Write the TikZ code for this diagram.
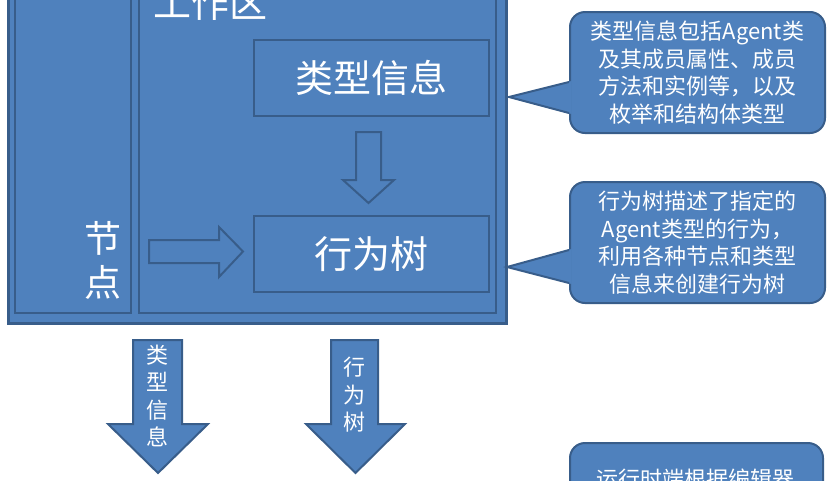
\documentclass[tikz,border=0pt]{standalone}
\usepackage{fontspec}
\setmainfont{Noto Sans CJK SC}
\definecolor{fillc}{HTML}{4F81BD}
\definecolor{linec}{HTML}{385D8A}
\begin{document}
\begin{tikzpicture}[x=1pt,y=-1pt,
  panel/.style={fill=fillc,draw=linec,inner sep=0pt,text=white},
  blockarrow/.style={fill=fillc,draw=linec,line width=2pt,line join=miter},
  callout/.style={fill=fillc,draw=linec,line width=2pt,rounded corners=15pt,inner sep=0pt,text=white,align=center,font=\fontsize{22}{27.5}\selectfont},
  big/.style={font=\fontsize{38}{44}\selectfont,text=white,align=center},
  small/.style={font=\fontsize{22}{27.5}\selectfont,text=white,align=center}]
\useasboundingbox (0,0) rectangle (830,480);
\clip (0,0) rectangle (830,480);
% panels
\node[panel,line width=3pt,minimum width=498pt,minimum height=343pt] (outer) at (257,151.5) {};
\node[panel,line width=2pt,minimum width=116pt,minimum height=333pt] (left) at (73,146.5) {};
\node[panel,line width=2pt,minimum width=357pt,minimum height=333pt] (work) at (317.5,146.5) {};
\node[big] (worklabel) at (210,3) {工作区};
\node[big,font=\fontsize{37}{44}\selectfont] (nodes) at (103,260) {节\\点};
\node[panel,big,line width=2.5pt,minimum width=235pt,minimum height=76pt] (ti) at (371.5,78) {类型信息};
\node[panel,big,line width=2.5pt,minimum width=235pt,minimum height=76pt] (bt) at (371.5,254) {行为树};
% internal block arrows
\draw[blockarrow] (356,132) -- (381,132) -- (381,180) -- (394,180) -- (368.5,203) -- (343,180) -- (356,180) -- cycle;
\draw[blockarrow] (149,240) -- (219,240) -- (219,227) -- (243,251.5) -- (219,277) -- (219,263) -- (149,263) -- cycle;
% bottom arrows
\draw[blockarrow] (133,340) -- (182,340) -- (182,424) -- (208,424) -- (158,473) -- (108,424) -- (133,424) -- cycle;
\node[small] (a1) at (157.5,396) {类\\型\\信\\息};
\draw[blockarrow] (331,340) -- (378,340) -- (378,424) -- (405,424) -- (355.5,473) -- (306,424) -- (331,424) -- cycle;
\node[small] (a2) at (354.5,395) {行\\为\\树};
% callouts
\node[callout,minimum width=255pt,minimum height=121pt] (c1) at (697.5,72.5) {类型信息包括Agent类\\及其成员属性、成员\\方法和实例等，以及\\枚举和结构体类型};
\coordinate (p1) at (509,97);
\fill[fillc] (p1) -- (571.5,81) -- (571.5,114) -- cycle;
\draw[linec,line width=2pt,line join=miter] (c1.west |- 0,82) -- (p1) -- (c1.west |- 0,113);
\node[callout,minimum width=255pt,minimum height=121pt] (c2) at (697.5,242.5) {行为树描述了指定的\\Agent类型的行为，\\利用各种节点和类型\\信息来创建行为树};
\coordinate (p2) at (507,267);
\fill[fillc] (p2) -- (571.5,249) -- (571.5,284) -- cycle;
\draw[linec,line width=2pt,line join=miter] (c2.west |- 0,250) -- (p2) -- (c2.west |- 0,283);
\node[callout,minimum width=253pt,minimum height=120pt] (c3) at (696.5,503) {};
\node[small] (c3t) at (695,479) {运行时端根据编辑器};
\end{tikzpicture}
\end{document}
